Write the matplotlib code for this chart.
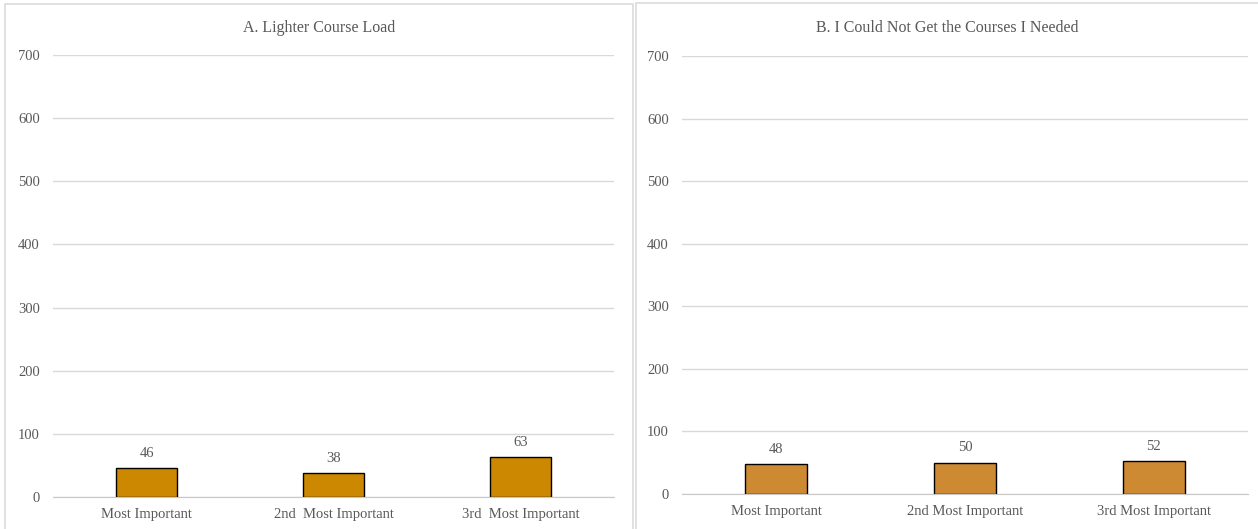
import matplotlib.pyplot as plt
from matplotlib.patches import Rectangle

# data
categories = ["Most Important", "2nd  Most Important", "3rd  Most Important"]
categories_b = ["Most Important", "2nd Most Important", "3rd Most Important"]
lighter_load = [46, 38, 63]
no_courses = [48, 50, 52]
titles = ["A. Lighter Course Load", "B. I Could Not Get the Courses I Needed"]
yticks = [0, 100, 200, 300, 400, 500, 600, 700]

W, H = 1258, 529
plt.rcParams['font.family'] = ['Liberation Serif', 'DejaVu Serif']
txt = '#595959'

fig = plt.figure(figsize=(W / 100, H / 100), dpi=100)


def px_axes(x0, x1, ytop, ybot):
    return fig.add_axes([x0 / W, (H - ybot) / H, (x1 - x0) / W, (ybot - ytop) / H])


# panel borders (pixel coords)
for (x0, x1, y0) in [(5, 633, 4), (636, 1263, 2.5)]:
    fig.add_artist(Rectangle((x0 / W, -0.05), (x1 - x0) / W, (H - y0) / H + 0.05,
                             transform=fig.transFigure, fill=False,
                             edgecolor='#DCDCDC', lw=1.2))

panels = [
    (px_axes(53, 614, 55, 497), lighter_load, categories, '#CC8800', titles[0], 319),
    (px_axes(682, 1248, 56, 494), no_courses, categories_b, '#CD8A32', titles[1], 947),
]

for ax, vals, cats, col, title, tx in panels:
    x = range(len(vals))
    bars = ax.bar(x, vals, width=0.33, color=col, edgecolor='black', lw=1, zorder=3)
    ax.set_xlim(-0.5, len(vals) - 0.5)
    ax.set_ylim(0, 700)
    ax.set_yticks(yticks)
    ax.set_xticks(list(x))
    ax.set_xticklabels(cats)
    ax.tick_params(length=0, labelsize=10.5, colors=txt)
    ax.tick_params(axis='y', pad=9.5)
    ax.tick_params(axis='x', pad=8)
    ax.grid(axis='y', color='#D9D9D9', lw=1, zorder=0)
    for s in ['top', 'right', 'left']:
        ax.spines[s].set_visible(False)
    ax.spines['bottom'].set_color('#C8C8C8')
    ax.spines['bottom'].set_zorder(4)
    for b, v in zip(bars, vals):
        ax.annotate(str(v), (b.get_x() + b.get_width() / 2, v), xytext=(0, 6),
                    textcoords='offset points', ha='center', va='bottom',
                    fontsize=10.5, color=txt)
    fig.text(tx / W, (H - 28) / H, title, ha='center', va='center',
             fontsize=11.5, color=txt)

fig.savefig('out.png', dpi=100)
